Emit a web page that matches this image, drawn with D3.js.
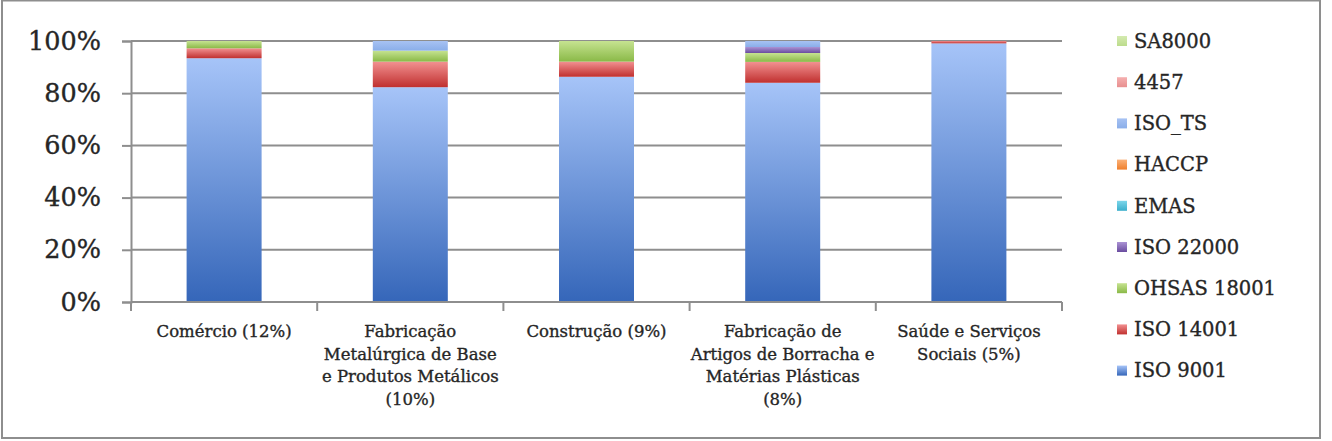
<!DOCTYPE html>
<html><head><meta charset="utf-8">
<script src="https://cdn.jsdelivr.net/npm/d3@7"></script>
<style>html,body{margin:0;padding:0;background:#fff;}svg{display:block;}</style>
</head><body>
<svg id="chart" width="1332" height="441"></svg>
<script>
const categories = ["Comércio (12%)", "Fabricação\nMetalúrgica de Base\ne Produtos Metálicos\n(10%)", "Construção (9%)", "Fabricação de\nArtigos de Borracha e\nMatérias Plásticas\n(8%)", "Saúde e Serviços\nSociais (5%)"];
const seriesNames = ["ISO 9001", "ISO 14001", "OHSAS 18001", "ISO 22000", "EMAS", "HACCP", "ISO_TS", "4457", "SA8000"];
const iso9001 = [93.4, 82.3, 86.3, 84.0, 99.1];
const iso14001 = [3.8, 9.8, 5.8, 8.0, 0.9];
const ohsas18001 = [2.8, 4.2, 7.9, 3.4, 0];
const iso22000 = [0, 0, 0, 2.3, 0];
const emas = [0, 0, 0, 0, 0];
const haccp = [0, 0, 0, 0, 0];
const isoTS = [0, 3.7, 0, 2.3, 0];
const v4457 = [0, 0, 0, 0, 0];
const sa8000 = [0, 0, 0, 0, 0];
const yTicks = [0, 20, 40, 60, 80, 100];

const seriesValues = [iso9001, iso14001, ohsas18001, iso22000, emas, haccp, isoTS, v4457, sa8000];
const colors = [
  ["#a6c4f8", "#3566b9"],
  ["#f29191", "#c0302f"],
  ["#c6e391", "#8ab947"],
  ["#ab93d4", "#6a4c9f"],
  ["#7dd6ea", "#3aaecb"],
  ["#fbb27a", "#ef7f2c"],
  ["#a7c2f3", "#8aaee9"],
  ["#f5b0b0", "#e88f8f"],
  ["#d4eab0", "#bcdc8c"]
];

const table = categories.map((c, i) => {
  const o = {cat: c};
  seriesNames.forEach((s, j) => o[s] = seriesValues[j][i]);
  return o;
});

const svg = d3.select("#chart");
const defs = svg.append("defs");
colors.forEach((c, j) => {
  const g = defs.append("linearGradient").attr("id", "g" + j)
    .attr("x1", 0).attr("y1", 0).attr("x2", 0).attr("y2", 1);
  g.append("stop").attr("offset", "0%").attr("stop-color", c[0]);
  g.append("stop").attr("offset", "100%").attr("stop-color", c[1]);
});

const textColor = "#262626";
function styleText(sel, size) {
  sel.attr("font-family", "DejaVu Serif").attr("font-size", size)
    .attr("fill", textColor).attr("stroke", textColor).attr("stroke-width", 0.35);
}

// frame
svg.append("rect").attr("x", 2).attr("y", 0.5).attr("width", 1318).attr("height", 437.5)
  .attr("fill", "none").attr("stroke", "#8e8e8e").attr("stroke-width", 2);

const x0 = 131, x1 = 1062, yTop = 41, yBot = 302;
const x = d3.scaleBand().domain(categories).range([x0, x1]).paddingInner(0).paddingOuter(0);
const y = d3.scaleLinear().domain([0, 100]).range([yBot, yTop]);
const barW = 75;

// gridlines
svg.append("g").selectAll("line").data(yTicks.filter(t => t > 0)).join("line")
  .attr("x1", x0).attr("x2", x1).attr("y1", d => y(d)).attr("y2", d => y(d))
  .attr("stroke", "#8e8e8e").attr("stroke-width", 2);

const stack = d3.stack().keys(seriesNames);
const stacked = stack(table);

svg.append("g").selectAll("g").data(stacked).join("g")
  .attr("fill", (d, j) => `url(#g${j})`)
  .selectAll("rect").data(d => d).join("rect")
  .attr("x", d => x(d.data.cat) + x.bandwidth() / 2 - barW / 2)
  .attr("width", barW)
  .attr("y", d => y(d[1]))
  .attr("height", d => Math.max(0, y(d[0]) - y(d[1])));

// y axis
const yAxis = d3.axisLeft(y).tickValues(yTicks).tickFormat(d => d + "%").tickSize(9).tickPadding(21);
const ga = svg.append("g").attr("transform", `translate(${x0},0)`).call(yAxis);
ga.select(".domain").attr("stroke", "#8e8e8e").attr("stroke-width", 2);
ga.selectAll(".tick line").attr("stroke", "#8e8e8e").attr("stroke-width", 2);
styleText(ga.selectAll(".tick text"), 25.5);

// x axis line
const gx = svg.append("g");
gx.append("line").attr("x1", x0).attr("x2", x1).attr("y1", yBot).attr("y2", yBot)
  .attr("stroke", "#8e8e8e").attr("stroke-width", 2);
const bounds = categories.map(c => x(c)).concat([x1]);
gx.selectAll("line.t").data(bounds).join("line").attr("class", "t")
  .attr("x1", d => d).attr("x2", d => d).attr("y1", yBot).attr("y2", yBot + 9)
  .attr("stroke", "#8e8e8e").attr("stroke-width", 2);

// category labels
const lab = svg.append("g").selectAll("text").data(categories).join("text")
  .attr("x", d => x(d) + x.bandwidth() / 2)
  .attr("y", 337)
  .attr("text-anchor", "middle");
styleText(lab, 16.5);
lab.selectAll("tspan").data(d => d.split("\n")).join("tspan")
  .attr("x", function() { return this.parentNode.getAttribute("x"); })
  .attr("dy", (d, i) => i === 0 ? 0 : 22.7)
  .text(d => d);

// legend
const legendOrder = seriesNames.map((s, j) => j).reverse();
const lg = svg.append("g").selectAll("g").data(legendOrder).join("g")
  .attr("transform", (j, i) => `translate(1117,${41 + i * 41.2})`);
lg.append("rect").attr("x", 0).attr("y", -5).attr("width", 10).attr("height", 10)
  .attr("fill", j => `url(#g${j})`);
const lt = lg.append("text").attr("x", 17).attr("y", 0).attr("dy", "0.35em")
  .text(j => seriesNames[j]);
styleText(lt, 19.5);
</script>
</body></html>
